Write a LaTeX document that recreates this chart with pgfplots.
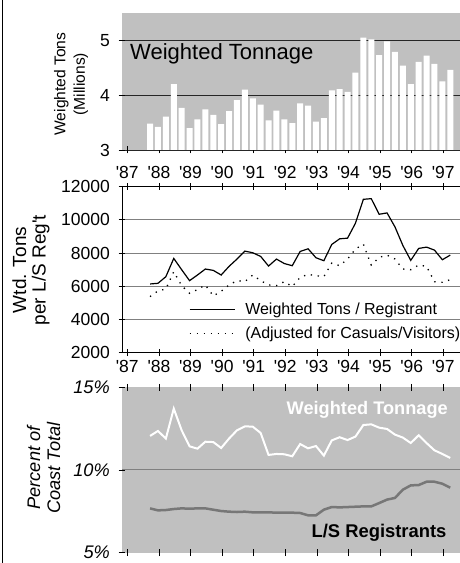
\documentclass[border=0pt]{standalone}
\usepackage{pgfplots}
\pgfplotsset{compat=1.18}
\usepackage{pgfplotstable}
\usepackage{fontspec}
\setmainfont{Liberation Sans}
\newfontfamily\apf{Liberation Sans}
\newcommand{\yr}[1]{{\apf'}#1}
\definecolor{bg}{HTML}{C0C0C0}
\definecolor{gl}{HTML}{808080}
\definecolor{reg}{HTML}{777777}

\pgfplotstableread{
x       tons  wtr    adj   pwt    preg
1987.72 3.48  6140   5380  12.06  7.68
1987.97 3.42  6180   5720  12.36  7.56
1988.22 3.61  6580   5840  11.90  7.58
1988.47 4.20  7680   6880  13.71  7.64
1988.72 3.77  7000   6040  12.40  7.68
1988.97 3.40  6340   5580  11.43  7.66
1989.22 3.56  6680   5800  11.29  7.68
1989.47 3.74  7040   6080  11.71  7.68
1989.72 3.64  6960   5420  11.69  7.60
1989.97 3.47  6680   5700  11.33  7.52
1990.22 3.71  7200   6080  11.90  7.48
1990.47 3.91  7640   6340  12.40  7.46
1990.72 4.10  8120   6280  12.64  7.48
1990.97 3.94  8020   6680  12.62  7.44
1991.22 3.83  7800   6340  12.24  7.44
1991.47 3.54  7220   6080  10.91  7.44
1991.72 3.72  7640   6040  10.97  7.42
1991.97 3.56  7370   6280  10.95  7.42
1992.22 3.49  7240   5980  10.83  7.42
1992.47 3.85  8100   6540  11.57  7.40
1992.72 3.81  8260   6720  11.31  7.26
1992.97 3.52  7720   6640  11.45  7.26
1993.22 3.58  7540   6580  10.87  7.60
1993.47 4.09  8520   7400  11.79  7.76
1993.72 4.11  8860   7240  11.98  7.74
1993.97 4.06  8900   7640  11.81  7.76
1994.22 4.41  9800   8240  12.02  7.78
1994.47 5.05  11240  8540  12.72  7.80
1994.72 5.02  11280  7280  12.76  7.80
1994.97 4.73  10340  7740  12.56  8.00
1995.22 4.98  10420  7880  12.48  8.21
1995.47 4.79  9580   7640  12.14  8.31
1995.72 4.54  8460   7040  11.96  8.81
1995.97 4.20  7560   7000  11.63  9.07
1996.22 4.61  8280   7280  12.10  9.09
1996.47 4.72  8360   7200  11.63  9.29
1996.72 4.57  8180   6280  11.19  9.29
1996.97 4.25  7600   6240  10.97  9.17
1997.22 4.46  7880   6400  10.73  8.93
}\data

\pgfplotsset{
  common/.style={
    scale only axis, width=339pt,
    xmin=1986.832, xmax=1997.56,
    anchor=south west,
    xtick={1987,1988,...,1997},
    tick align=center, major tick length=7pt,
    major tick style={black, line width=0.8pt},
    /pgf/number format/assume math mode=true,
    /pgf/number format/1000 sep={},
    scaled y ticks=false,
    tick label style={font=\fontsize{17.5}{20}\selectfont},
    ytick pos=left,
    yticklabel style={anchor=east, inner sep=0pt, xshift=-8.5pt},
    xticklabel style={anchor=north, inner sep=0pt},
  }
}

\begin{document}
\begin{tikzpicture}
\path[use as bounding box] (0pt,0pt) rectangle (459pt,563pt);
\draw[line width=1.3pt] (2.4pt,0pt) -- (2.4pt,563pt);

% Panel 1
\begin{axis}[common, at={(122pt,413pt)}, height=137pt,
  ymin=3, ymax=5.5, ytick={3,4,5},
  ymajorgrids, grid style={line width=0.8pt, black!85},
  separate axis lines, axis line style={draw=none},
  axis background/.style={fill=bg},
  xtick pos=left,
  xticklabels={\yr{87},\yr{88},\yr{89},\yr{90},\yr{91},\yr{92},\yr{93},\yr{94},\yr{95},\yr{96},\yr{97}},
  xticklabel style={yshift=-12.2pt},
]
\addplot[ybar, bar width=6pt, fill=white, draw=none] table[x=x,y=tons]{\data};
\node[anchor=base west, inner sep=0pt, font=\fontsize{22}{22}\selectfont] at (rel axis cs:0.0236,0.664) {Weighted Tonnage};
\end{axis}

% Panel 2
\begin{axis}[common, at={(122pt,210.3pt)}, height=166pt,
  ymin=2000, ymax=12000, ytick={2000,4000,...,12000},
  ymajorgrids, grid style={gl, line width=0.8pt},
  axis line style={black, line width=0.8pt},
  xtick pos=both,
  xticklabels={\yr{87},\yr{88},\yr{89},\yr{90},\yr{91},\yr{92},\yr{93},\yr{94},\yr{95},\yr{96},\yr{97}},
  xticklabel style={yshift=-3.8pt},
  legend style={draw=none, fill=none, at={(rel axis cs:0.197,0.314)}, anchor=north west,
    inner sep=0pt, row sep=7pt, font=\fontsize{16}{16}\selectfont},
  legend cell align=left,
  legend image code/.code={\draw[#1] (0pt,0pt) -- (45pt,0pt); \path (53pt,0pt);},
]
\addplot[black, line width=1.2pt] table[x=x,y=wtr]{\data};
\addlegendentry{Weighted Tons / Registrant}
\addplot[black, line width=1.3pt, dash pattern=on 1.3pt off 5.7pt] table[x=x,y=adj]{\data};
\addlegendentry{(Adjusted for Casuals/Visitors)}
\end{axis}

% Panel 3
\begin{axis}[common, at={(122pt,10.3pt)}, height=165.4pt,
  ymin=5, ymax=15, ytick={5,15}, yticklabels={5\%,15\%},
  extra y ticks={10}, extra y tick labels={10\%},
  extra y tick style={grid=major},
  grid style={gl, line width=1pt},
  separate axis lines, axis line style={draw=none},
  axis background/.style={fill=bg},
  xtick pos=both, xticklabels={},
  yticklabel style={font=\itshape\fontsize{18.2}{20}\selectfont},
]
\addplot[white, line width=2pt] table[x=x,y=pwt]{\data};
\addplot[reg, line width=2.5pt] table[x=x,y=preg]{\data};
\node[anchor=base east, inner sep=0pt, text=white, font=\bfseries\fontsize{18.2}{20}\selectfont] at (rel axis cs:0.9617,0.838) {Weighted Tonnage};
\node[anchor=base east, inner sep=0pt, font=\bfseries\fontsize{18.4}{20}\selectfont] at (rel axis cs:0.9578,0.089) {L/S Registrants};
\end{axis}

\node[rotate=90, align=center, font=\fontsize{15.6}{19.5}\selectfont] at (71pt,479pt) {Weighted Tons\\(Millions)};
\node[rotate=90, align=center, font=\fontsize{19}{19.5}\selectfont] at (31pt,293pt) {Wtd. Tons\\per L/S Reg{\apf'}t};
\node[rotate=90, align=center, font=\itshape\fontsize{18.2}{20}\selectfont] at (43.5pt,95pt) {Percent of\\Coast Total};
\end{tikzpicture}
\end{document}
